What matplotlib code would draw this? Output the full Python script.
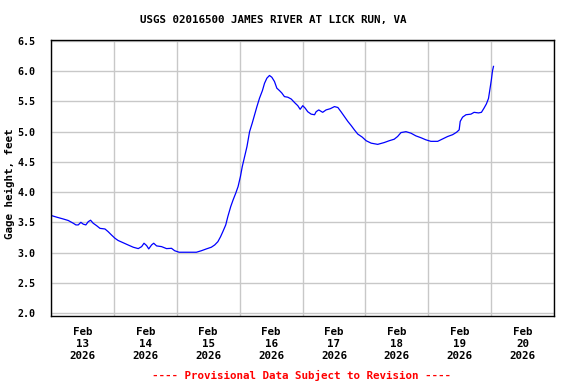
import matplotlib
matplotlib.use("Agg")
import matplotlib.pyplot as plt
import numpy as np
import pandas as pd

title = "USGS 02016500 JAMES RIVER AT LICK RUN, VA"
ylabel = "Gage height, feet"
footer = "---- Provisional Data Subject to Revision ----"
start = "2026-02-13"
end = "2026-02-21"
day_labels = ["Feb\n13\n2026", "Feb\n14\n2026", "Feb\n15\n2026", "Feb\n16\n2026",
              "Feb\n17\n2026", "Feb\n18\n2026", "Feb\n19\n2026", "Feb\n20\n2026"]
yticks = [2.0, 2.5, 3.0, 3.5, 4.0, 4.5, 5.0, 5.5, 6.0, 6.5]

# hours since Feb 13 00:00
hours = [0.3, 2.2, 4.7, 6.6, 8.5, 9.5, 10.4, 11.4, 12.3, 13.3, 14.2, 15.1, 16.1, 17.4,
         18.7, 20.6, 21.8, 23.1, 24.4, 25.6, 27.5, 29.4, 31.4, 33.3, 34.6, 35.5, 36.5,
         37.3, 38.4, 39.2, 40.3, 42.2, 44.1, 46.0, 47.2, 48.9, 51.7, 55.5, 57.4, 59.3,
         61.2, 62.5, 63.7, 64.7, 65.6, 66.7, 67.5, 68.6, 69.5, 70.5, 71.4, 72.3, 73.0,
         73.9, 74.8, 75.8, 76.8, 77.7, 78.6, 79.6, 80.7, 81.5, 82.4, 83.4, 84.3, 85.3,
         86.2, 87.2, 88.1, 89.1, 90.4, 91.7, 93.0, 94.2, 95.1, 96.1, 97.0, 98.0, 99.3,
         100.6, 101.2, 102.2, 103.7, 105.0, 106.6, 108.2, 109.5, 110.7, 112.0, 113.3,
         114.6, 115.8, 117.1, 118.8, 120.3, 122.2, 124.7, 127.2, 129.1, 131.0, 132.3,
         133.6, 135.5, 137.4, 139.3, 141.2, 143.1, 145.0, 147.6, 149.5, 151.4, 153.3,
         154.8, 155.8, 156.2, 157.1, 158.4, 160.3, 161.5, 163.2, 164.3, 165.3, 166.2,
         167.0, 167.6, 168.1, 168.5, 168.9]
gage = [3.61, 3.585, 3.555, 3.53, 3.485, 3.457, 3.457, 3.50, 3.47, 3.457, 3.51, 3.535,
        3.485, 3.445, 3.40, 3.39, 3.346, 3.29, 3.237, 3.20, 3.164, 3.126, 3.088, 3.065,
        3.098, 3.154, 3.115, 3.06, 3.126, 3.154, 3.11, 3.098, 3.065, 3.07, 3.03, 3.005,
        3.005, 3.005, 3.03, 3.06, 3.088, 3.126, 3.18, 3.26, 3.346, 3.457, 3.595, 3.76,
        3.87, 3.98, 4.09, 4.257, 4.42, 4.59, 4.753, 5.0, 5.14, 5.28, 5.415, 5.555, 5.68,
        5.80, 5.885, 5.93, 5.90, 5.83, 5.72, 5.68, 5.64, 5.58, 5.57, 5.54, 5.48, 5.43,
        5.37, 5.43, 5.39, 5.33, 5.29, 5.28, 5.33, 5.36, 5.32, 5.36, 5.38, 5.415, 5.40,
        5.33, 5.25, 5.17, 5.10, 5.03, 4.96, 4.91, 4.85, 4.81, 4.79, 4.82, 4.85, 4.875,
        4.92, 4.985, 5.0, 4.975, 4.93, 4.90, 4.865, 4.84, 4.84, 4.88, 4.92, 4.95, 4.99,
        5.03, 5.17, 5.24, 5.28, 5.29, 5.32, 5.31, 5.32, 5.39, 5.46, 5.55, 5.72, 5.86,
        6.0, 6.08]

t0 = pd.Timestamp(start)
times = t0 + pd.to_timedelta(hours, unit="h")

font = "DejaVu Sans Mono"
fs = 7.8

fig = plt.figure(figsize=(5.76, 3.84), dpi=100)
ax = fig.add_axes([51/576, 1-316/384, 503/576, (316-39.5)/384])
ax.plot(times, gage, color="#0000ff", lw=0.9)

ax.set_xlim(pd.Timestamp(start), pd.Timestamp(end))
ax.set_ylim(1.95, 6.525)

major = pd.date_range(start, end, freq="D")
minor = major[:-1] + pd.Timedelta(hours=12)
ax.set_xticks(major)
ax.set_xticklabels([""] * len(major))
ax.set_xticks(minor, minor=True)
ax.set_xticklabels(day_labels, minor=True, fontfamily=font, fontweight="bold",
                   fontsize=fs, linespacing=1.25)
ax.tick_params(axis="x", which="both", length=0, pad=8)
ax.set_yticks(yticks)
ax.set_yticklabels([f"{v:.1f}" for v in yticks], fontfamily=font, fontweight="bold", fontsize=7.2)
ax.tick_params(axis="y", length=0, pad=11.5)

ax.grid(True, which="major", color="#c8c8c8", lw=1.0)
ax.set_axisbelow(True)
for s in ax.spines.values():
    s.set_color("black")
    s.set_linewidth(1.0)

ax.set_ylabel(ylabel, fontfamily=font, fontweight="bold", fontsize=fs)
ax.yaxis.set_label_coords(-0.072, 0.477)

fig.text(273/576, 1-20/384, title, ha="center", va="center",
         fontfamily=font, fontweight="bold", fontsize=fs)
fig.text(301/576, 1-375/384, footer, ha="center", va="center", color="#ff0000",
         fontfamily=font, fontweight="bold", fontsize=fs)

fig.savefig("out.png", dpi=100)
